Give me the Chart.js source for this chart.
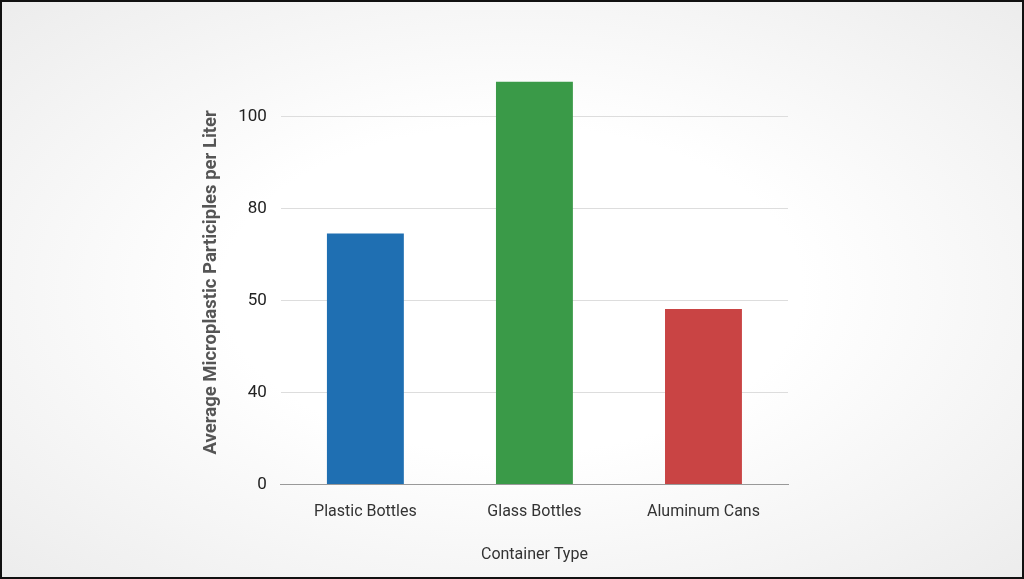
<!DOCTYPE html>
<html><head>
<script src="https://cdn.jsdelivr.net/npm/chart.js"></script>
<style>
html,body{margin:0;padding:0;}
body{width:1024px;height:579px;box-sizing:border-box;border:2px solid #111;background:radial-gradient(ellipse at center,#ffffff 40%,#ececec 100%);}
#w{position:absolute;left:0;top:0;width:1024px;height:579px;}
</style>
</head><body>
<div id="w"><canvas id="c" width="1024" height="579"></canvas></div>
<script>
const categories = ["Plastic Bottles","Glass Bottles","Aluminum Cans"];
// values in axis-step units (ticks are evenly spaced but labelled 0,40,50,80,100)
const values = [2.73, 4.38, 1.91];
const tickLabels = ["0","40","50","80","100"];
const colors = ["#1f6fb2","#3a9a48","#c94444"];

new Chart(document.getElementById('c'),{
  type:'bar',
  data:{labels:categories,datasets:[{data:values,backgroundColor:colors,barPercentage:0.455,categoryPercentage:1}]},
  options:{
    responsive:false,animation:false,
    layout:{padding:{left:196,right:236,top:80,bottom:10}},
    plugins:{legend:{display:false},tooltip:{enabled:false}},
    scales:{
      x:{grid:{display:false},border:{color:'#999'},
         ticks:{color:'#333',font:{family:'Roboto',size:16},padding:10},
         title:{display:true,text:'Container Type',color:'#333',font:{family:'Roboto',size:16},padding:{top:14}}},
      y:{min:0,max:4.4,afterBuildTicks:a=>{a.ticks=[0,1,2,3,4].map(v=>({value:v}));},
         ticks:{color:'#222',font:{family:'Roboto',size:17},padding:14,callback:(v)=>tickLabels[v]},
         grid:{color:'#dddddd',drawTicks:false},border:{display:false},
         title:{display:true,text:'Average Microplastic Participles per Liter',color:'#555',font:{family:'Roboto',size:18.5,weight:'bold'},padding:{bottom:2}}}
    }
  }
});
</script>
</body></html>
